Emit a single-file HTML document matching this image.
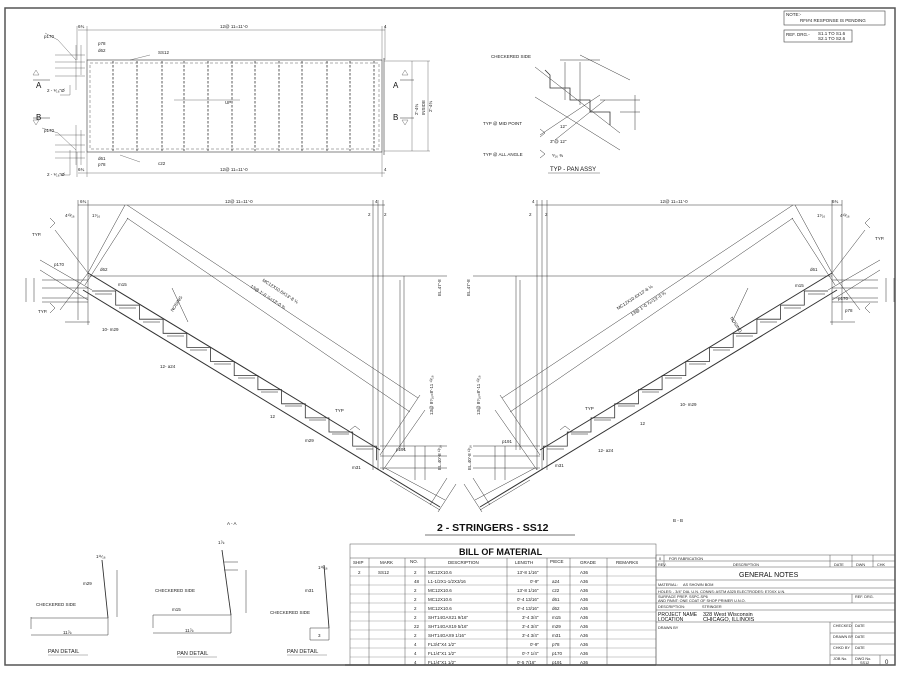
<!DOCTYPE html>
<html><head><meta charset="utf-8"><style>
html,body{margin:0;padding:0;background:#fff;}
svg{display:block;font-family:"Liberation Sans",Arial,sans-serif;}
.t{font-size:4.5px;fill:#222;}
.s{font-size:5.5px;fill:#111;}
</style></head><body>
<svg width="900" height="675" viewBox="0 0 900 675" xmlns="http://www.w3.org/2000/svg">
<rect x="0" y="0" width="900" height="675" fill="#fff"/>
<path d="M5,8 H895 V665 H5 Z" fill="none" stroke="#555" stroke-width="1.5"/>

<g fill="none" stroke="#444" stroke-width="0.6">
<rect x="784" y="11" width="101" height="14"/>
<rect x="784" y="30" width="68" height="12"/>
</g>
<text class="t" x="786" y="16">NOTE:-</text>
<text class="t" x="800" y="22">RFI#4 RESPONSE IS PENDING</text>
<text class="t" x="786" y="36">REF. DRG.-</text>
<text class="t" x="818" y="35">S1.1 TO S1.6</text>
<text class="t" x="818" y="40">S2.1 TO S2.6</text>

<!-- PLAN VIEW -->
<g stroke="#333" fill="none" stroke-width="0.6">
<rect x="87" y="60" width="295" height="92"/>
<rect x="90" y="63" width="289" height="86" stroke-dasharray="3,2" stroke-width="0.4"/>
<g stroke-dasharray="2.5,1.5" stroke-width="0.8">
<line x1="113" y1="61" x2="113" y2="151"/><line x1="137" y1="61" x2="137" y2="151"/>
<line x1="162" y1="61" x2="162" y2="151"/><line x1="184" y1="61" x2="184" y2="151"/>
<line x1="208" y1="61" x2="208" y2="151"/><line x1="232" y1="61" x2="232" y2="151"/>
<line x1="255" y1="61" x2="255" y2="151"/><line x1="279" y1="61" x2="279" y2="151"/>
<line x1="302" y1="61" x2="302" y2="151"/><line x1="327" y1="61" x2="327" y2="151"/>
<line x1="350" y1="61" x2="350" y2="151"/><line x1="374" y1="61" x2="374" y2="151"/>
</g>
<line x1="384" y1="58" x2="384" y2="155"/>
<g stroke-width="0.35">
<line x1="78" y1="30" x2="385" y2="30"/><line x1="87" y1="26" x2="87" y2="60"/><line x1="382" y1="26" x2="382" y2="60"/><line x1="77" y1="26" x2="77" y2="60"/><line x1="385" y1="26" x2="385" y2="60"/>
<line x1="78" y1="173" x2="385" y2="173"/><line x1="87" y1="152" x2="87" y2="177"/><line x1="382" y1="152" x2="382" y2="177"/><line x1="77" y1="152" x2="77" y2="177"/>
<line x1="384" y1="61" x2="430" y2="61"/><line x1="384" y1="151" x2="430" y2="151"/>
<line x1="412" y1="61" x2="412" y2="151"/><line x1="428" y1="61" x2="428" y2="151"/>
<line x1="55" y1="55" x2="85" y2="55"/><line x1="55" y1="62" x2="85" y2="62"/><line x1="55" y1="68" x2="85" y2="68"/><line x1="55" y1="76" x2="85" y2="76"/>
<line x1="55" y1="145" x2="85" y2="145"/><line x1="55" y1="152" x2="85" y2="152"/><line x1="55" y1="158" x2="85" y2="158"/><line x1="55" y1="135" x2="85" y2="135"/>
<line x1="76" y1="45" x2="76" y2="90"/><line x1="81" y1="45" x2="81" y2="75"/>
<line x1="76" y1="125" x2="76" y2="165"/><line x1="81" y1="130" x2="81" y2="165"/>
<line x1="174" y1="100" x2="240" y2="100"/>
<path d="M45,33 L58,40 L76,60"/><path d="M42,128 L58,133 L76,150"/>
<path d="M70,85 V95 H60"/><path d="M70,150 V175 H60"/>
<path d="M150,55 L130,60"/><path d="M120,155 L140,162"/>
</g>
<path d="M33,80 H50 M33,118 H50 M400,80 H414 M400,118 H414" stroke-width="0.5"/>
</g>
<g fill="none" stroke="#777" stroke-width="0.5">
<path d="M33,75 l3,-5 l3,5 z"/><path d="M33,120 l3,5 l3,-5 z"/><path d="M402,75 l3,-5 l3,5 z"/><path d="M402,120 l3,5 l3,-5 z"/>
</g>
<text class="s" x="36" y="88" style="font-size:8px">A</text>
<text class="s" x="36" y="120" style="font-size:8px">B</text>
<text class="s" x="393" y="88" style="font-size:8px">A</text>
<text class="s" x="393" y="120" style="font-size:8px">B</text>
<text class="t" x="220" y="28">12@ 11=11'-0</text>
<text class="t" x="220" y="171">12@ 11=11'-0</text>
<text class="t" x="78" y="28">6¾</text><text class="t" x="78" y="171">6¾</text>
<text class="t" x="384" y="28">4</text><text class="t" x="384" y="171">4</text>
<text class="t" x="44" y="38">p170</text><text class="t" x="98" y="45">p78</text><text class="t" x="98" y="52">d62</text>
<text class="t" x="158" y="54">SS12</text><text class="t" x="158" y="165">c22</text>
<text class="t" x="44" y="132">p170</text><text class="t" x="98" y="160">d61</text><text class="t" x="98" y="166">p78</text>
<text class="t" x="47" y="92">2 - ⁹⁄₁₆"Ø</text><text class="t" x="47" y="176">2 - ⁹⁄₁₆"Ø</text>
<text class="t" x="225" y="104">UP</text>
<text class="t" transform="translate(418,115) rotate(-90)">2'-4¾</text>
<text class="t" transform="translate(425,115) rotate(-90)">INSIDE</text>
<text class="t" transform="translate(432,112) rotate(-90)">2'-4¾</text>

<!-- TYP PAN ASSY -->
<g fill="none" stroke="#333" stroke-width="0.5">
<line x1="535" y1="67" x2="620" y2="133"/>
<line x1="535" y1="97" x2="620" y2="150"/>
<polyline points="545,70 550,75 550,88 570,88 570,100 590,100 590,112 610,112 610,125" stroke-width="0.8"/>
<line x1="565" y1="62" x2="565" y2="100"/><line x1="580" y1="62" x2="580" y2="105"/>
<line x1="560" y1="60" x2="600" y2="60"/>
<line x1="580" y1="55" x2="630" y2="80"/><line x1="540" y1="135" x2="600" y2="95"/>
<line x1="555" y1="140" x2="605" y2="100"/>
<line x1="600" y1="100" x2="640" y2="100"/><line x1="620" y1="112" x2="640" y2="112"/><line x1="635" y1="95" x2="635" y2="130"/>
<path d="M540,129 l5,4 l-5,4"/><path d="M540,150 l5,4 l-5,4"/>
</g>
<text class="t" x="491" y="58">CHECKERED SIDE</text>
<text class="t" x="483" y="125">TYP @ MID POINT</text>
<text class="t" x="483" y="156">TYP @ ALL ANGLE</text>
<text class="t" x="550" y="143">3"@ 12"</text><text class="t" x="560" y="128">12"</text>
<text class="t" x="552" y="157">⁵⁄₁₆ ⅜</text>
<text class="s" x="550" y="171" style="font-size:6px">TYP - PAN ASSY</text>
<line x1="548" y1="173" x2="600" y2="173" stroke="#333" stroke-width="0.4"/>

<!-- STRINGER -->
<g id="str" fill="none" stroke="#333" stroke-width="0.5">
<line x1="88" y1="273" x2="380" y2="450" stroke-width="1"/>
<line x1="83" y1="290" x2="440" y2="507" stroke-width="1"/>
<line x1="127" y1="205" x2="418" y2="398"/>
<line x1="127" y1="218" x2="410" y2="412"/>
<line x1="40" y1="260" x2="92" y2="290"/><line x1="40" y1="270" x2="88" y2="300"/>
<polyline stroke-width="0.8" points="92,291 115.7,291 115.7,305.1 139.4,305.1 139.4,319.2 163.1,319.2 163.1,333.3 186.8,333.3 186.8,347.4 210.5,347.4 210.5,361.5 234.2,361.5 234.2,375.6 257.9,375.6 257.9,389.7 281.6,389.7 281.6,403.8 305.3,403.8 305.3,417.9 329,417.9 329,432 352.7,432 352.7,446.1 376.4,446.1 376.4,460.2"/>
<g stroke="#888" stroke-width="0.9">
<line x1="95" y1="294" x2="112" y2="294"/><line x1="119" y1="308" x2="136" y2="308"/><line x1="143" y1="322" x2="160" y2="322"/><line x1="167" y1="336" x2="184" y2="336"/><line x1="190" y1="350" x2="207" y2="350"/><line x1="214" y1="364" x2="231" y2="364"/><line x1="238" y1="378" x2="255" y2="378"/><line x1="261" y1="392" x2="278" y2="392"/><line x1="285" y1="406" x2="302" y2="406"/><line x1="309" y1="420" x2="326" y2="420"/><line x1="332" y1="434" x2="349" y2="434"/><line x1="356" y1="449" x2="373" y2="449"/>
</g>
<line x1="78" y1="205" x2="385" y2="205"/>
<line x1="78" y1="200" x2="78" y2="320"/><line x1="88" y1="200" x2="88" y2="325"/>
<line x1="373" y1="200" x2="373" y2="470"/><line x1="378" y1="200" x2="378" y2="470"/><line x1="383" y1="200" x2="383" y2="470"/>
<line x1="88" y1="276" x2="447" y2="276"/>
<line x1="400" y1="280" x2="400" y2="450"/><line x1="404" y1="276" x2="404" y2="450"/>
<line x1="380" y1="446" x2="447" y2="446"/><line x1="380" y1="456" x2="447" y2="456"/><line x1="380" y1="468" x2="447" y2="468"/>
<line x1="425" y1="446" x2="425" y2="480"/><line x1="415" y1="446" x2="415" y2="480"/>
<line x1="380" y1="455" x2="420" y2="395"/><line x1="383" y1="470" x2="425" y2="410"/>
<line x1="390" y1="480" x2="440" y2="510"/><line x1="385" y1="468" x2="445" y2="500"/>
<line x1="438" y1="512" x2="456" y2="484"/><line x1="430" y1="505" x2="447" y2="478"/>
<line x1="88" y1="273" x2="125" y2="205"/><line x1="85" y1="285" x2="128" y2="218"/>
<line x1="88" y1="273" x2="55" y2="230"/><line x1="88" y1="273" x2="60" y2="310"/>
<line x1="42" y1="280" x2="88" y2="280"/><line x1="42" y1="288" x2="88" y2="288"/><line x1="42" y1="298" x2="88" y2="298"/><line x1="42" y1="302" x2="88" y2="302"/>
<line x1="26" y1="278" x2="26" y2="302"/><line x1="34" y1="278" x2="34" y2="302"/>
<line x1="65" y1="322" x2="90" y2="322"/>
<line x1="172" y1="288" x2="188" y2="322"/>
<path d="M50,218 L55,223 L50,228"/><path d="M50,303 L55,308 L50,313"/><path d="M350,430 l5,-4 l5,4"/>
</g>
<use href="#str" transform="translate(920,0) scale(-1,1)"/>

<text class="t" x="80" y="203">6¾</text><text class="t" x="225" y="203">12@ 11=11'-0</text><text class="t" x="375" y="203">4</text>
<text class="t" x="368" y="216">2</text><text class="t" x="384" y="216">2</text>
<text class="t" x="65" y="217">4¹³⁄₁₆</text><text class="t" x="92" y="217">1⁷⁄₁₆</text>
<text class="t" x="32" y="236">TYP.</text><text class="t" x="38" y="313">TYP.</text>
<text class="t" x="54" y="266">p170</text><text class="t" x="100" y="271">d62</text><text class="t" x="118" y="286">m15</text>
<text class="t" x="102" y="331">10- m29</text><text class="t" x="160" y="368">12- a24</text>
<text class="t" x="305" y="442">m29</text><text class="t" x="352" y="469">m31</text><text class="t" x="396" y="451">p191</text>
<text class="t" x="335" y="412">TYP</text><text class="t" x="270" y="418">12</text>
<text class="t" transform="translate(262,281) rotate(33)">MC12X10.6X13'-8  ⅛</text>
<text class="t" transform="translate(250,287) rotate(33)">13@ 1'-0 ⅞=13'-0 ⅜</text>
<text class="t" transform="translate(173,312) rotate(-57)">NOSING</text>
<text class="t" transform="translate(441,296) rotate(-90)">EL.47'-8</text>
<text class="t" transform="translate(433,415) rotate(-90)">13@ 8⁷⁄₁₆=8'-11 ¹³⁄₁₆</text>
<text class="t" transform="translate(441,470) rotate(-90)">EL.40'-8 ¹³⁄₁₆</text>
<text class="t" x="660" y="203">12@ 11=11'-0</text><text class="t" x="532" y="203">4</text><text class="t" x="832" y="203">6¾</text>
<text class="t" x="529" y="216">2</text><text class="t" x="545" y="216">2</text>
<text class="t" x="817" y="217">1⁷⁄₁₆</text><text class="t" x="840" y="217">4¹³⁄₁₆</text>
<text class="t" x="875" y="240">TYP.</text><text class="t" x="810" y="271">d61</text><text class="t" x="795" y="287">m15</text>
<text class="t" x="838" y="300">p170</text><text class="t" x="845" y="312">p78</text>
<text class="t" x="680" y="406">10- m29</text><text class="t" x="598" y="452">12- a24</text>
<text class="t" x="555" y="467">m31</text><text class="t" x="502" y="443">p191</text><text class="t" x="585" y="410">TYP</text>
<text class="t" x="640" y="425">12</text>
<text class="t" transform="translate(618,310) rotate(-33)">MC12X10.6X13'-8  ⅛</text>
<text class="t" transform="translate(632,316) rotate(-33)">13@ 1'-0 ⅞=13'-0 ⅜</text>
<text class="t" transform="translate(730,318) rotate(57)">NOSING</text>
<text class="t" transform="translate(470,296) rotate(-90)">EL.47'-8</text>
<text class="t" transform="translate(480,415) rotate(-90)">13@ 8⁷⁄₁₆=8'-11 ¹³⁄₁₆</text>
<text class="t" transform="translate(471,470) rotate(-90)">EL.40'-8 ¹³⁄₁₆</text>

<text class="t" x="227" y="525">A - A</text>
<text class="t" x="673" y="522">B - B</text>
<text x="437" y="531" style="font-size:10.5px;font-weight:bold" fill="#111">2 - STRINGERS - SS12</text>
<line x1="425" y1="535" x2="575" y2="535" stroke="#777" stroke-width="1"/>

<!-- PAN DETAILS -->
<g fill="none" stroke="#333" stroke-width="0.5">
<path d="M31,617 V629 M31,618 H108 M108,618 V635 M31,635 H108" />
<line x1="108" y1="618" x2="102" y2="560" stroke-width="0.9"/>
<line x1="117" y1="570" x2="117" y2="617"/>
<line x1="153" y1="615" x2="231" y2="615"/><line x1="153" y1="615" x2="153" y2="628"/><line x1="231" y1="615" x2="231" y2="633"/><line x1="153" y1="633" x2="231" y2="633"/>
<line x1="231" y1="615" x2="222" y2="550" stroke-width="0.9"/><line x1="224" y1="570" x2="238" y2="570"/><line x1="224" y1="562" x2="238" y2="562"/><line x1="246" y1="570" x2="246" y2="613"/>
<path d="M310,628 H329 V640 H310 Z"/>
<line x1="329" y1="628" x2="324" y2="565" stroke-width="0.9"/>
</g>
<text class="t" x="36" y="606">CHECKERED SIDE</text><text class="t" x="83" y="585">m29</text><text class="t" x="96" y="558">1¹¹⁄₁₆</text>
<text class="t" x="63" y="634">11⅞</text>
<text class="t" x="155" y="592">CHECKERED SIDE</text><text class="t" x="172" y="611">m15</text><text class="t" x="218" y="544">1⅞</text><text class="t" x="185" y="632">11⅞</text>
<text class="t" x="270" y="614">CHECKERED SIDE</text><text class="t" x="305" y="592">m31</text><text class="t" x="318" y="569">1¹¹⁄₁₆</text><text class="t" x="318" y="637">3</text>
<text class="t" x="48" y="653" style="font-size:5.5px">PAN DETAIL</text>
<text class="t" x="177" y="655" style="font-size:5.5px">PAN DETAIL</text>
<text class="t" x="287" y="653" style="font-size:5.5px">PAN DETAIL</text>
<g stroke="#555" stroke-width="0.4"><line x1="48" y1="655" x2="88" y2="655"/><line x1="177" y1="657" x2="217" y2="657"/><line x1="287" y1="655" x2="327" y2="655"/></g>

<!-- BILL OF MATERIAL -->
<g fill="none" stroke="#555" stroke-width="0.5">
<rect x="350" y="544" width="306" height="121"/>
<line x1="350" y1="558" x2="656" y2="558"/><line x1="350" y1="567" x2="656" y2="567"/>
<line x1="369" y1="558" x2="369" y2="665"/><line x1="405" y1="558" x2="405" y2="665"/><line x1="425" y1="558" x2="425" y2="665"/>
<line x1="507" y1="558" x2="507" y2="665"/><line x1="547" y1="558" x2="547" y2="665"/><line x1="570" y1="558" x2="570" y2="665"/><line x1="607" y1="558" x2="607" y2="665"/>
<g stroke-width="0.3">
<line x1="350" y1="576" x2="656" y2="576"/><line x1="350" y1="585" x2="656" y2="585"/><line x1="350" y1="594" x2="656" y2="594"/><line x1="350" y1="603" x2="656" y2="603"/><line x1="350" y1="612" x2="656" y2="612"/><line x1="350" y1="621" x2="656" y2="621"/><line x1="350" y1="630" x2="656" y2="630"/><line x1="350" y1="639" x2="656" y2="639"/><line x1="350" y1="648" x2="656" y2="648"/><line x1="350" y1="657" x2="656" y2="657"/>
</g>
</g>
<line x1="345" y1="665" x2="656" y2="665" stroke="#555" stroke-width="1.5"/>
<text x="459" y="555" style="font-size:9px;font-weight:bold" fill="#111">BILL OF MATERIAL</text>
<g class="t" style="font-size:4.5px">
<text x="353" y="564">SHIP</text><text x="380" y="564">MARK</text><text x="410" y="563">NO.</text><text x="448" y="564">DESCRIPTION</text><text x="515" y="564">LENGTH</text><text x="550" y="563">PIECE</text><text x="580" y="564">GRADE</text><text x="616" y="564">REMARKS</text>
<text x="358" y="574">2</text><text x="378" y="574">SS12</text>
<text x="414" y="574">2</text><text x="414" y="583">48</text><text x="414" y="592">2</text><text x="414" y="601">2</text><text x="414" y="610">2</text><text x="414" y="619">2</text><text x="414" y="628">22</text><text x="414" y="637">2</text><text x="414" y="646">4</text><text x="414" y="655">4</text><text x="414" y="664">4</text>
<text x="428" y="574">MC12X10.6</text><text x="428" y="583">L1-1/2X1-1/2X3/16</text><text x="428" y="592">MC12X10.6</text><text x="428" y="601">MC12X10.6</text><text x="428" y="610">MC12X10.6</text><text x="428" y="619">SHT14GAX21 9/16"</text><text x="428" y="628">SHT14GAX19 5/16"</text><text x="428" y="637">SHT14GAX9 1/16"</text><text x="428" y="646">FL3/4"X4 1/2"</text><text x="428" y="655">FL1/4"X1 1/2"</text><text x="428" y="664">FL1/4"X1 1/2"</text>
<text x="517" y="574">13'-8 1/16"</text><text x="530" y="583">0'-9"</text><text x="517" y="592">13'-8 1/16"</text><text x="517" y="601">0'-4 13/16"</text><text x="517" y="610">0'-4 13/16"</text><text x="522" y="619">3'-4 3/4"</text><text x="522" y="628">3'-4 3/4"</text><text x="522" y="637">3'-4 3/4"</text><text x="530" y="646">0'-9"</text><text x="522" y="655">0'-7 1/4"</text><text x="517" y="664">0'-5 7/16"</text>
<text x="552" y="583">a24</text><text x="552" y="592">c22</text><text x="552" y="601">d61</text><text x="552" y="610">d62</text><text x="552" y="619">m15</text><text x="552" y="628">m29</text><text x="552" y="637">m31</text><text x="552" y="646">p78</text><text x="552" y="655">p170</text><text x="552" y="664">p191</text>
<text x="580" y="574">A36</text><text x="580" y="583">A36</text><text x="580" y="592">A36</text><text x="580" y="601">A36</text><text x="580" y="610">A36</text><text x="580" y="619">A36</text><text x="580" y="628">A36</text><text x="580" y="637">A36</text><text x="580" y="646">A36</text><text x="580" y="655">A36</text><text x="580" y="664">A36</text>
</g>

<!-- TITLE BLOCK -->
<g fill="none" stroke="#555" stroke-width="0.5">
<rect x="656" y="555" width="239" height="110"/>
<line x1="656" y1="561" x2="895" y2="561"/><line x1="656" y1="567" x2="895" y2="567"/><line x1="656" y1="580" x2="895" y2="580"/>
<line x1="656" y1="588" x2="895" y2="588"/><line x1="656" y1="594" x2="895" y2="594"/><line x1="656" y1="603" x2="895" y2="603"/><line x1="656" y1="610" x2="895" y2="610"/><line x1="656" y1="622" x2="895" y2="622"/>
<line x1="664" y1="555" x2="664" y2="567"/><line x1="830" y1="555" x2="830" y2="567"/><line x1="852" y1="555" x2="852" y2="567"/><line x1="873" y1="555" x2="873" y2="567"/>
<line x1="852" y1="594" x2="852" y2="603"/>
<line x1="830" y1="622" x2="830" y2="665"/><line x1="852" y1="622" x2="852" y2="665"/><line x1="880" y1="655" x2="880" y2="665"/>
<line x1="830" y1="633" x2="895" y2="633"/><line x1="830" y1="644" x2="895" y2="644"/><line x1="830" y1="655" x2="895" y2="655"/>
</g>
<g class="t" style="font-size:3.8px">
<text x="659" y="560">0</text><text x="669" y="560">FOR FABRICATION</text>
<text x="658" y="566">REV.</text><text x="733" y="566">DESCRIPTION</text><text x="834" y="566">DATE</text><text x="856" y="566">DWN</text><text x="877" y="566">CHK</text>
<text x="658" y="586">MATERIAL:</text><text x="683" y="586">AS SHOWN BOM</text>
<text x="658" y="593">HOLES: - 3/4" DIA. U.N.   CONNS:   ASTM A325   ELECTRODES:   E70XX U.N.</text>
<text x="658" y="598">SURFACE PREP.   SSPC-SP6</text><text x="855" y="598">REF. DRG.</text>
<text x="658" y="602">AND PAINT:   ONE COAT OF SHOP PRIMER U.N.O.</text>
<text x="658" y="608">DESCRIPTION:</text><text x="702" y="608">STRINGER</text>
<text x="658" y="629">DRAWN BY</text>
<text x="833" y="627">CHECKED</text><text x="855" y="627">DATE</text><text x="833" y="638">DRAWN BY</text><text x="855" y="638">DATE</text><text x="833" y="649">CHKD BY</text><text x="855" y="649">DATE</text><text x="833" y="660">JOB No.</text><text x="855" y="660">DWG No.</text><text x="860" y="664">SS12</text>
</g>
<text x="739" y="577" style="font-size:7px" fill="#111">GENERAL NOTES</text>
<text x="658" y="616" style="font-size:5px" fill="#111">PROJECT NAME</text><text x="703" y="616" style="font-size:5.5px" fill="#111">328 West Wisconsin</text>
<text x="658" y="621" style="font-size:5px" fill="#111">LOCATION</text><text x="703" y="621" style="font-size:5.5px" fill="#111">CHICAGO, ILLINOIS</text>
<text x="885" y="664" style="font-size:6px" fill="#111">0</text>
</svg>
</body></html>
